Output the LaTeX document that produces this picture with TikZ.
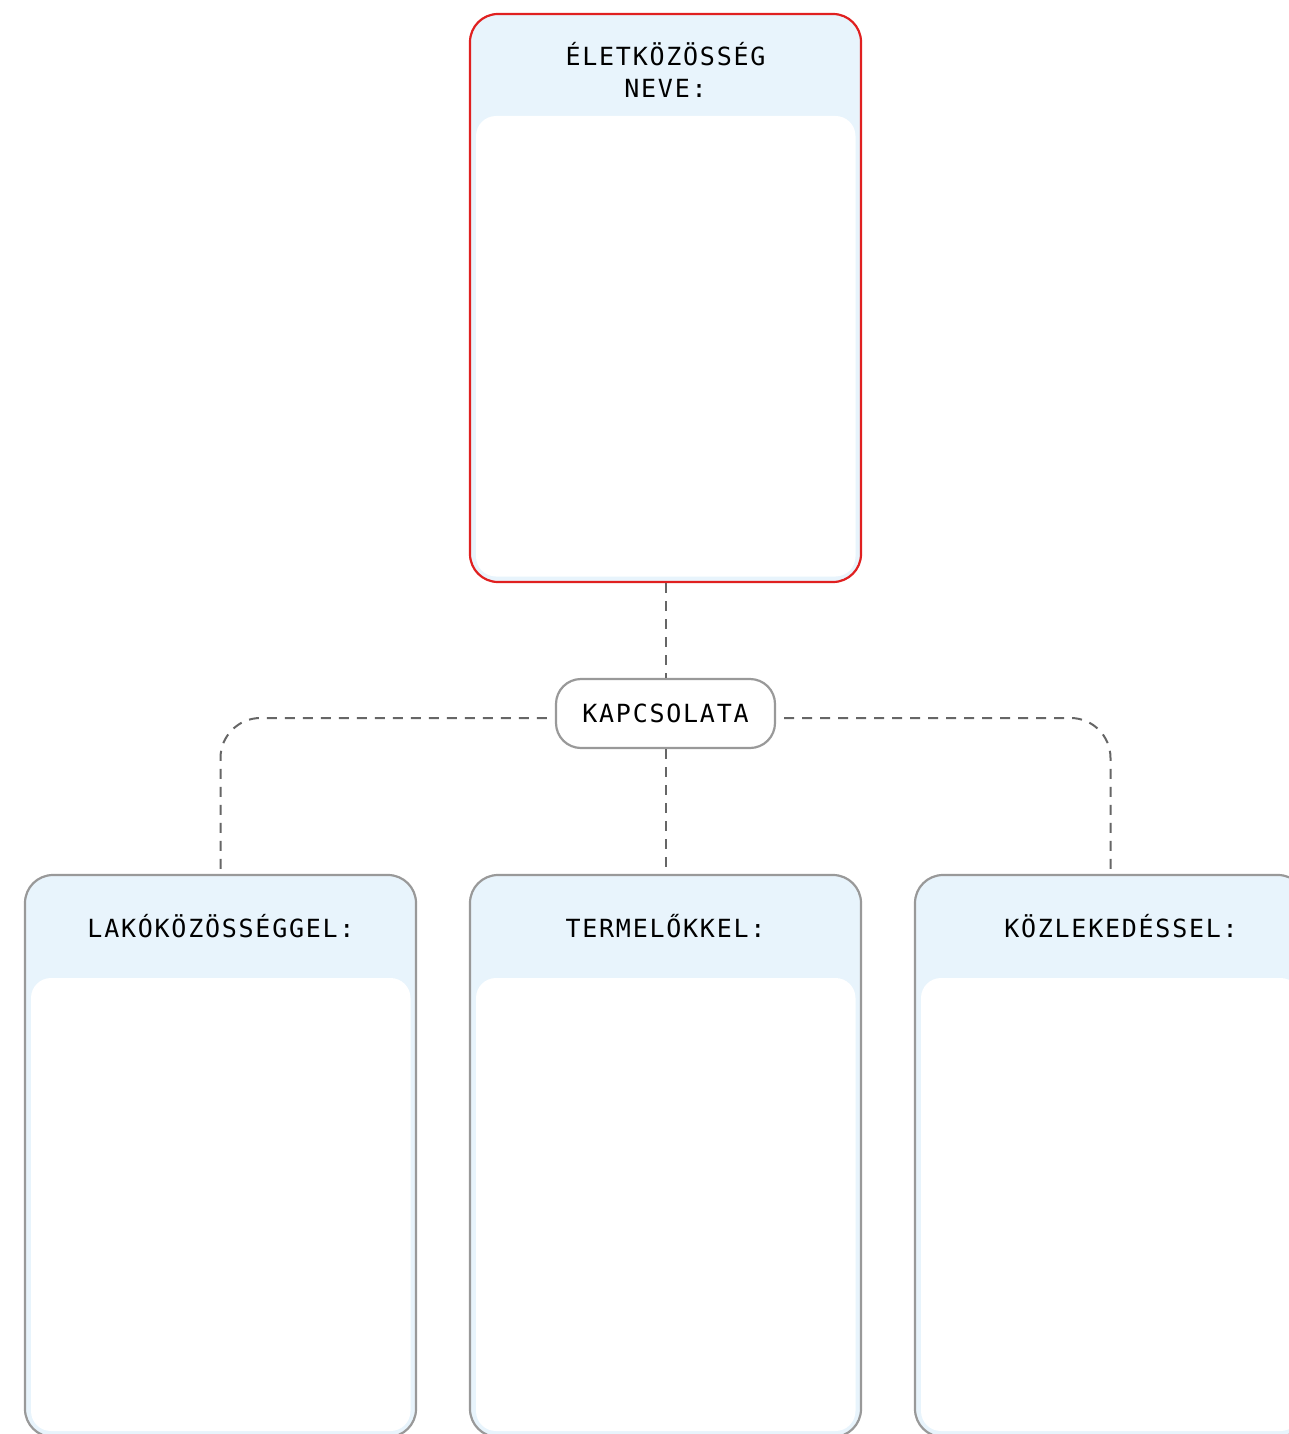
\documentclass[tikz,border=0pt]{standalone}
\usepackage{fontspec}
\newfontfamily\labelfont[LetterSpace=7]{DejaVu Sans Mono}
\definecolor{hdrblue}{HTML}{E8F4FC}
\definecolor{boxgray}{HTML}{999999}
\definecolor{boxred}{HTML}{E02020}
\definecolor{connGray}{HTML}{666666}
\tikzset{
  card/.style={rectangle, rounded corners=28pt, fill=hdrblue, line width=2.2pt, inner sep=0pt, minimum width=391pt},
  panel/.style={fill=white, rounded corners=20pt},
  lbl/.style={font=\labelfont\fontsize{25}{32}\selectfont, text=black, align=center, inner sep=0pt},
  pill/.style={rectangle, rounded corners=25pt, draw=boxgray, line width=2.2pt, fill=white, minimum width=219pt, minimum height=69pt, inner sep=0pt},
  conn/.style={draw=connGray, line width=2pt, dash pattern=on 10pt off 8pt},
}
\begin{document}
\begin{tikzpicture}[x=1pt,y=-1pt]
\useasboundingbox (0,0) rectangle (1289,1434);
\clip (0,0) rectangle (1289,1434);
% top card
\node[card, draw=boxred, minimum height=568pt] (top) at (665.5,298) {};
\fill[panel] (476,116) rectangle (855.5,576.5);
\node[lbl] (toplbl) at (665.5,69.5) {ÉLETKÖZÖSSÉG\\NEVE:};
% middle pill
\node[pill] (kap) at (665.5,713.5) {};
\node[lbl] (kaplbl) at (kap.center) {KAPCSOLATA};
% bottom cards
\node[card, draw=boxgray, minimum height=562pt] (left) at (220.5,1156) {};
\node[card, draw=boxgray, minimum height=562pt] (mid) at (665.5,1156) {};
\node[card, draw=boxgray, minimum height=562pt] (right) at (1110.5,1156) {};
\fill[panel] (31,978) rectangle (410.5,1431);
\fill[panel] (476,978) rectangle (855.5,1431);
\fill[panel] (921,978) rectangle (1300.5,1431);
\node[lbl] (leftlbl) at (221,926) {LAKÓKÖZÖSSÉGGEL:};
\node[lbl] (midlbl) at (665.5,926) {TERMELŐKKEL:};
\node[lbl] (rightlbl) at (1121,926) {KÖZLEKEDÉSSEL:};
% connectors
\draw[conn] (top.south) -- (kap.north);
\draw[conn] (kap.south) -- (mid.north);
\draw[conn, rounded corners=40pt] ([xshift=-8pt,yshift=-4.5pt]kap.west) -| (left.north);
\draw[conn, rounded corners=40pt] ([xshift=8pt,yshift=-4.5pt]kap.east) -| (right.north);
\end{tikzpicture}
\end{document}
